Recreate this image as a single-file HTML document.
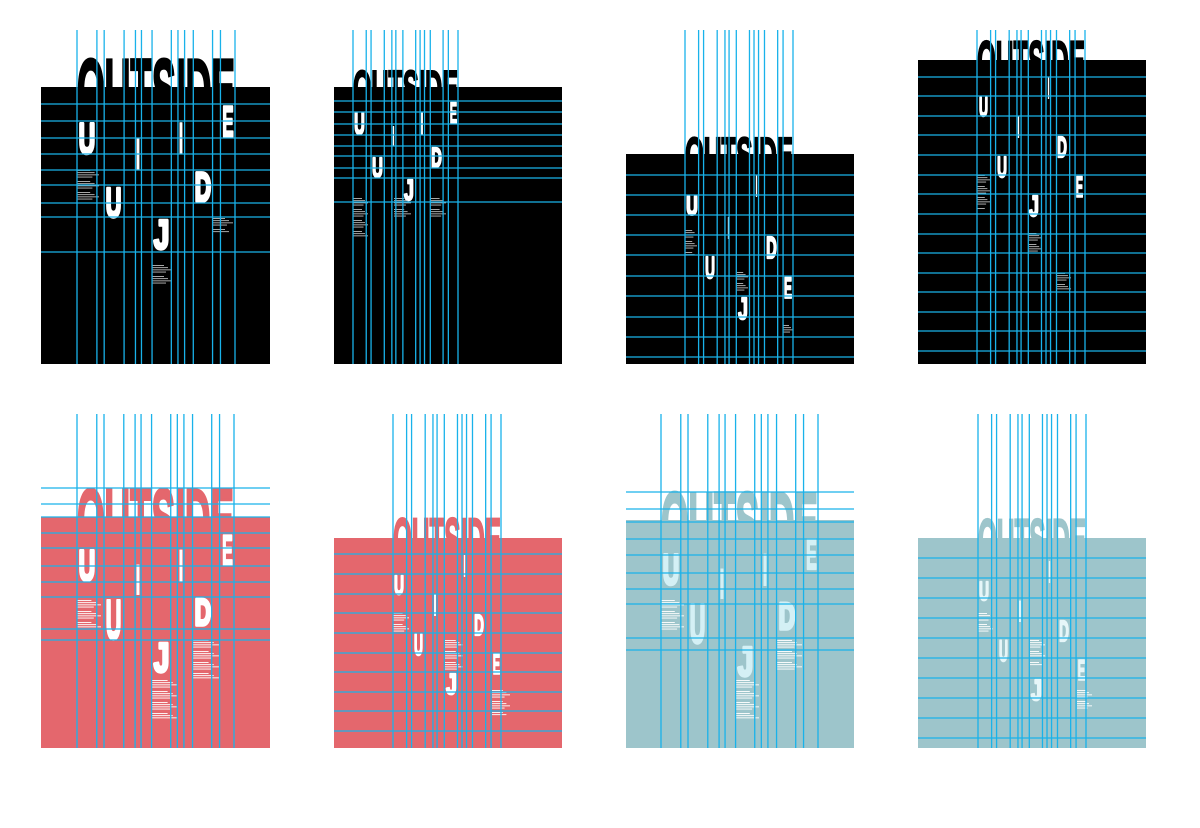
<!DOCTYPE html>
<html><head><meta charset="utf-8">
<style>
html,body{margin:0;padding:0;background:#fff;}
svg{display:block;}
</style></head>
<body>
<svg id="chart" width="1200" height="828" viewBox="0 0 1200 828" xmlns="http://www.w3.org/2000/svg"></svg>
<script>
// vertical grid pattern as fractions of the letter span
const vFractions = [0, .126, .172, .298, .370, .408, .475, .597, .639, .681, .736, .858, .908, 1];
const panelNames = ['poster-black-1','poster-black-2','poster-black-3','poster-black-4','poster-red-1','poster-red-2','poster-teal-1','poster-teal-2'];
const panelRects = [[41,87,270,364],[334,87,562,364],[626,154,854,364],[918,60,1146,364],[41,517,270,748],[334,538,562,748],[626,520,854,748],[918,538,1146,748]];
const panelFill = ['#000','#000','#000','#000','#e4676d','#e4676d','#9dc5cb','#9dc5cb'];
const letterFill = ['#fff','#fff','#fff','#fff','#fff','#fff','#d4f0f5','#e6f6f8'];
const vSpan = [[77,235],[353,458],[685,793],[977,1085],[77,234],[393,501],[661,818],[978,1086]];
const vTop = [30,30,30,30,414,414,414,414];
const outsideTop = [57,70,137,40,487,517,490,518];
const hLines = [
 [104,121,138,154,170,185,203,217,252],
 [101,112,124,135,146,156,168,178,202],
 [175,195,215,235,255,276,296,317,337,357],
 [77,96,116,135,155,175,194,214,234,253,273,292,312,331,351],
 [488,504,517,533,548,566,582,597,629,640],
 [554,574,594,613,633,653,672,692,711,731],
 [492,509,522,539,555,573,589,604,638,650],
 [558,578,598,618,638,658,678,698,718,738]
];
// letter fragments: [char, x0, x1, y0, y1]
const letters = [
 [['U',77,97,121,155],['I',135,141,137,170],['I',178,184,121,154],['E',221,235,104,138],['U',104,123,185,218],['D',193,213,170,203],['J',152,171,217,250]],
 [['E',449,458,101,124],['U',353,366,111,135],['I',392,395,125,146],['I',420,424,111,135],['U',371,384,156,178],['D',430,443,146,168],['J',403,415,178,201]],
 [['U',685,699,195,216],['I',727,730,216,239],['I',755,758,175,197],['D',765,778,235,259],['U',704,716,255,279],['E',783,793,276,299],['J',737,749,296,320]],
 [['I',1047,1050,77,99],['U',978,989,96,117],['I',1017,1020,116,138],['D',1056,1068,135,158],['U',996,1008,155,178],['E',1075,1084,175,198],['J',1028,1040,194,217]],
 [['U',77,97,548,582],['I',135,141,563,595],['I',178,184,548,582],['E',221,234,533,566],['U',104,123,597,640],['D',193,213,597,627],['J',152,171,640,673]],
 [['I',463,466,554,577],['U',393,405,574,595],['I',433,437,594,616],['D',473,485,613,636],['U',413,424,633,656],['E',492,501,653,675],['J',445,458,672,695]],
 [['U',661,681,552,586],['I',719,725,567,599],['I',762,768,552,586],['E',805,818,537,570],['U',688,707,601,644],['D',777,797,601,631],['J',736,755,644,677]],
 [['I',1048,1051,560,583],['U',978,990,580,601],['I',1018,1022,600,622],['D',1058,1070,619,642],['U',998,1009,639,662],['E',1077,1086,659,681],['J',1030,1043,678,701]]
];
// small text blocks [panel, x, y, w, rows]
const textBlocks = [
 [0,77,170,22,14],[0,152,265,20,10],[0,213,218,20,7],
 [1,353,198,15,18],[1,394,198,17,10],[1,430,198,16,10],
 [2,685,230,12,12],[2,736,272,12,9],[2,783,325,10,5],
 [3,977,175,13,16],[3,1028,233,14,9],[3,1056,273,15,8],
 [4,77,600,24,14],[4,152,680,26,18],[4,193,640,26,18],
 [5,393,613,16,10],[5,445,640,18,14],[5,492,690,18,12],
 [6,661,600,23,14],[6,736,680,23,18],[6,777,640,25,14],
 [7,978,613,15,10],[7,1030,640,15,12],[7,1077,690,15,10]
];
const NS='http://www.w3.org/2000/svg';
const svg=document.getElementById('chart');
function mk(tag,attrs,parent){const e=document.createElementNS(NS,tag);for(const k in attrs)e.setAttribute(k,attrs[k]);(parent||svg).appendChild(e);return e;}
function xAt(p,f){return vSpan[p][0]+f*(vSpan[p][1]-vSpan[p][0]);}
for(let p=0;p<panelRects.length;p++){
  const g=mk('g',{});
  
  
  const [x0,y0,x1,y1]=panelRects[p];
  const sx=vSpan[p][0], sw=vSpan[p][1]-vSpan[p][0];
  const capH=(y0-outsideTop[p])*2.1;
  const fs=capH/0.72;
  const t=mk('text',{x:sx,y:outsideTop[p]+capH,'font-size':fs.toFixed(1),'font-weight':'bold','font-family':'"Liberation Sans Narrow","Liberation Sans",sans-serif',fill:panelFill[p],stroke:panelFill[p],'stroke-width':(sw*0.02).toFixed(1),textLength:sw,lengthAdjust:'spacingAndGlyphs'},g);
  t.textContent='OUTSIDE';
  
  
  const r=mk('rect',{x:x0,y:y0,width:x1-x0,height:y1-y0,fill:panelFill[p]},g);
  
  
  for(const L of letters[p]){
    const [ch,lx0,lx1,ly0,ly1]=L;
    const h=ly1-ly0;
    const sw2=Math.max(1,(lx1-lx0)*0.18);
    const lt=mk('text',{x:lx0+sw2/2,y:ly1-sw2/2,'font-size':((h-sw2)/0.72).toFixed(1),'font-weight':'bold','font-family':'"Liberation Sans Narrow","Liberation Sans",sans-serif',fill:letterFill[p],stroke:letterFill[p],'stroke-width':sw2.toFixed(1),'stroke-linejoin':'round',textLength:(lx1-lx0-sw2).toFixed(1),lengthAdjust:'spacingAndGlyphs'},g);
    lt.textContent=ch;
    
    
  }
  for(const b of textBlocks){
    if(b[0]!==p)continue;
    for(let i=0;i<b[4];i++){
      if(i%5===4)continue;
      const ln=mk('rect',{x:b[1],y:b[2]+i*2.2,width:b[3]*(0.6+0.4*((i*7)%5)/4),height:0.9,fill:p<4?'#bbb':'#fff'},g);
      
      
    }
  }
  for(const f of vFractions){
    const x=xAt(p,f);
    const l=mk('line',{x1:x,x2:x,y1:vTop[p],y2:y1,stroke:'#19b2ea','stroke-width':1.3},g);
    
    
  }
  for(const y of hLines[p]){
    const l=mk('line',{x1:x0,x2:x1,y1:y,y2:y,stroke:'#19b2ea','stroke-width':1.3},g);
    
    
  }
}
</script>
</body></html>
